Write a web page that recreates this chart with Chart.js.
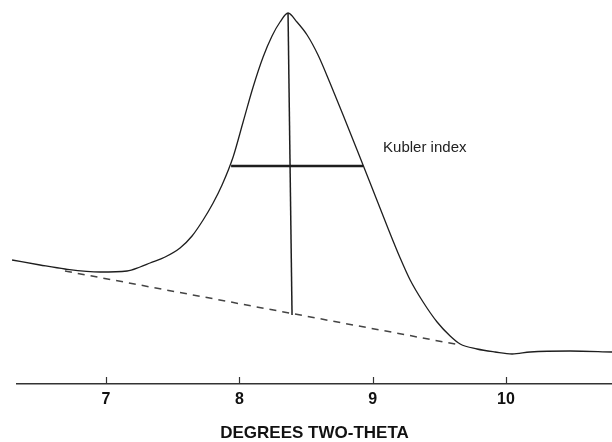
<!DOCTYPE html>
<html>
<head>
<meta charset="utf-8">
<script src="https://cdn.jsdelivr.net/npm/chart.js@4"></script>
<style>
  html, body { margin: 0; padding: 0; background: #fff; }
</style>
</head>
<body>
<canvas id="xrd" width="612" height="442"></canvas>
<script>
// Diffraction trace (degrees two-theta vs. relative intensity)
const curveX = [6.295, 6.505, 6.692, 6.955, 7.158, 7.255, 7.330, 7.443, 7.555, 7.645, 7.728, 7.803, 7.870,
  7.953, 8.028, 8.103, 8.178, 8.245, 8.305, 8.365, 8.432, 8.508, 8.590, 8.680, 8.778, 8.883,
  8.981, 9.108, 9.206, 9.281, 9.378, 9.483, 9.581, 9.656, 9.783, 9.918, 10.046, 10.181, 10.481, 10.796];
const curveY = [124, 119, 115, 112, 113, 117, 121, 127, 136, 148, 164, 181, 199,
  227, 262, 297, 327, 348, 362, 371, 362, 349, 329, 301, 269, 234,
  201, 158, 126, 104, 82, 62, 48, 40, 35, 32, 30, 32, 33, 32];

// Background line under the peak
const baseX = [6.692, 9.656];
const baseY = [113, 39];

// Peak height marker and width at half height
const peakX = [8.365, 8.395];
const peakY = [371, 69];
const halfX = [7.938, 8.928];
const halfY = [218, 218];

const xTicks = [7, 8, 9, 10];
const noteText = "Kubler index";
const noteAt = [9.078, 236];

const toPts = (xs, ys) => xs.map((x, i) => ({ x: x, y: ys[i] }));

const inkPlugin = {
  id: "ink",
  afterDraw(chart) {
    const ctx = chart.ctx;
    const x = chart.scales.x, y = chart.scales.y;
    const bottom = chart.chartArea.bottom;
    ctx.save();
    // ticks point up into the plot
    ctx.strokeStyle = "#333";
    ctx.lineWidth = 1.2;
    xTicks.forEach(v => {
      const px = Math.round(x.getPixelForValue(v)) + 0.5;
      ctx.beginPath();
      ctx.moveTo(px, bottom);
      ctx.lineTo(px, bottom - 7);
      ctx.stroke();
    });
    ctx.fillStyle = "#222";
    ctx.font = '15px "Liberation Sans", Arial, sans-serif';
    ctx.textBaseline = "middle";
    ctx.fillText(noteText, x.getPixelForValue(noteAt[0]), y.getPixelForValue(noteAt[1]));
    ctx.restore();
  }
};

const line = (data, extra) => Object.assign({
  data: data,
  borderColor: "#1e1e1e",
  borderWidth: 1.3,
  pointRadius: 0,
  fill: false,
  clip: false
}, extra);

new Chart(document.getElementById("xrd"), {
  type: "line",
  data: {
    datasets: [
      line(toPts(curveX, curveY), { cubicInterpolationMode: "monotone" }),
      line(toPts(baseX, baseY), { borderColor: "#444", borderWidth: 1.5, borderDash: [7, 6] }),
      line(toPts(peakX, peakY), { borderWidth: 1.5 }),
      line(toPts(halfX, halfY), { borderWidth: 2.5 })
    ]
  },
  options: {
    responsive: false,
    animation: false,
    layout: { padding: { left: 17, right: 0, top: 0, bottom: 0 } },
    plugins: { legend: { display: false }, tooltip: { enabled: false } },
    scales: {
      x: {
        type: "linear",
        min: 6.332,
        max: 10.795,
        afterBuildTicks: scale => { scale.ticks = xTicks.map(v => ({ value: v })); },
        grid: { display: true, drawOnChartArea: false, drawTicks: false },
        border: { display: true, color: "#333", width: 1.5 },
        ticks: {
          padding: 8,
          color: "#111",
          font: { family: '"Liberation Sans", Arial, sans-serif', size: 16, weight: "bold", lineHeight: 1 }
        },
        title: {
          display: true,
          text: "DEGREES TWO-THETA",
          color: "#111",
          padding: { top: 9, bottom: 0 },
          font: { family: '"Liberation Sans", Arial, sans-serif', size: 17, weight: "bold", lineHeight: 1 }
        }
      },
      y: { display: false, min: 0, max: 384 }
    }
  },
  plugins: [inkPlugin]
});
</script>
</body>
</html>
